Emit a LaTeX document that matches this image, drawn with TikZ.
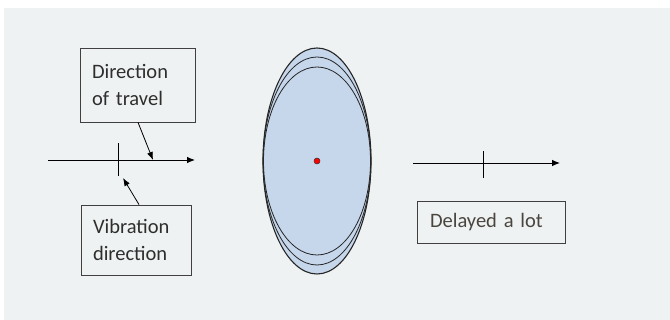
\documentclass[tikz,border=0pt]{standalone}
\usepackage{fontspec}
\setmainfont{Carlito}
\usepackage{tikz}
\usetikzlibrary{arrows.meta}

\definecolor{paper}{HTML}{EFF2F2}
\definecolor{lensblue}{HTML}{C6D6EB}
\definecolor{inktext}{HTML}{2E2E2E}
\definecolor{graytext}{HTML}{4A463F}

\tikzset{
    labelbox/.style={draw=black!75, line width=0.8pt, fill=paper, align=left,
        text=inktext, font=\fontsize{20.5}{26.5}\selectfont, inner sep=0pt},
    ray/.style={line width=0.9pt, -{Latex[length=8pt, width=6.5pt]}},
    pointer/.style={line width=0.8pt, -{Latex[length=8pt, width=6pt]}},
    tickmark/.style={line width=1pt},
    lens/.style={line width=0.8pt, draw=black!85},
}

\begin{document}
\begin{tikzpicture}[x=1pt, y=-1pt]
    \fill[white] (0,0) rectangle (670,320);
    \fill[paper] (4,8) rectangle (670,320);
    \useasboundingbox (0,0) rectangle (670,320);

    % left part
    \node[labelbox, minimum width=115pt, minimum height=74pt,
          text width=91pt]                  (travel)    at (137.5,85)   {Direction\\of travel};
    \node[labelbox, minimum width=110pt, minimum height=70pt,
          text width=86pt]                  (vibration) at (136,240)    {Vibration\\direction};
    \coordinate (inL)   at (48,160);
    \coordinate (outL)  at (195,160);
    \coordinate (tickLt) at (118,143);
    \coordinate (tickLb) at (118,176);
    \coordinate (hitT)  at (153,160);
    \coordinate (hitV)  at (123,178);
    \draw[ray] (inL) -- (outL);
    \draw[tickmark] (tickLt) -- (tickLb);
    \draw[pointer] (travel.south) ++(0.5,0) -- (hitT);
    \draw[pointer] (vibration.north) ++(3,0) -- (hitV);

    % the lens
    \coordinate (centre) at (317,161);
    \draw[lens, fill=lensblue, line width=1.1pt] (centre) ellipse (54 and 113);
    \draw[lens] (centre) ellipse (54 and 104);
    \draw[lens] (centre) ellipse (53.5 and 94);
    \filldraw[fill=red, draw=black!80, line width=0.5pt] (centre) circle (3);

    % right part
    \coordinate (inR)    at (413,163);
    \coordinate (outR)   at (560,163);
    \coordinate (tickRt) at (483,151);
    \coordinate (tickRb) at (483,178);
    \draw[ray] (inR) -- (outR);
    \draw[tickmark] (tickRt) -- (tickRb);
    \node[labelbox, text=graytext, minimum width=148pt, minimum height=42pt,
          text width=122pt]                 (delayed)   at (491,222)    {Delayed a lot};
\end{tikzpicture}
\end{document}
